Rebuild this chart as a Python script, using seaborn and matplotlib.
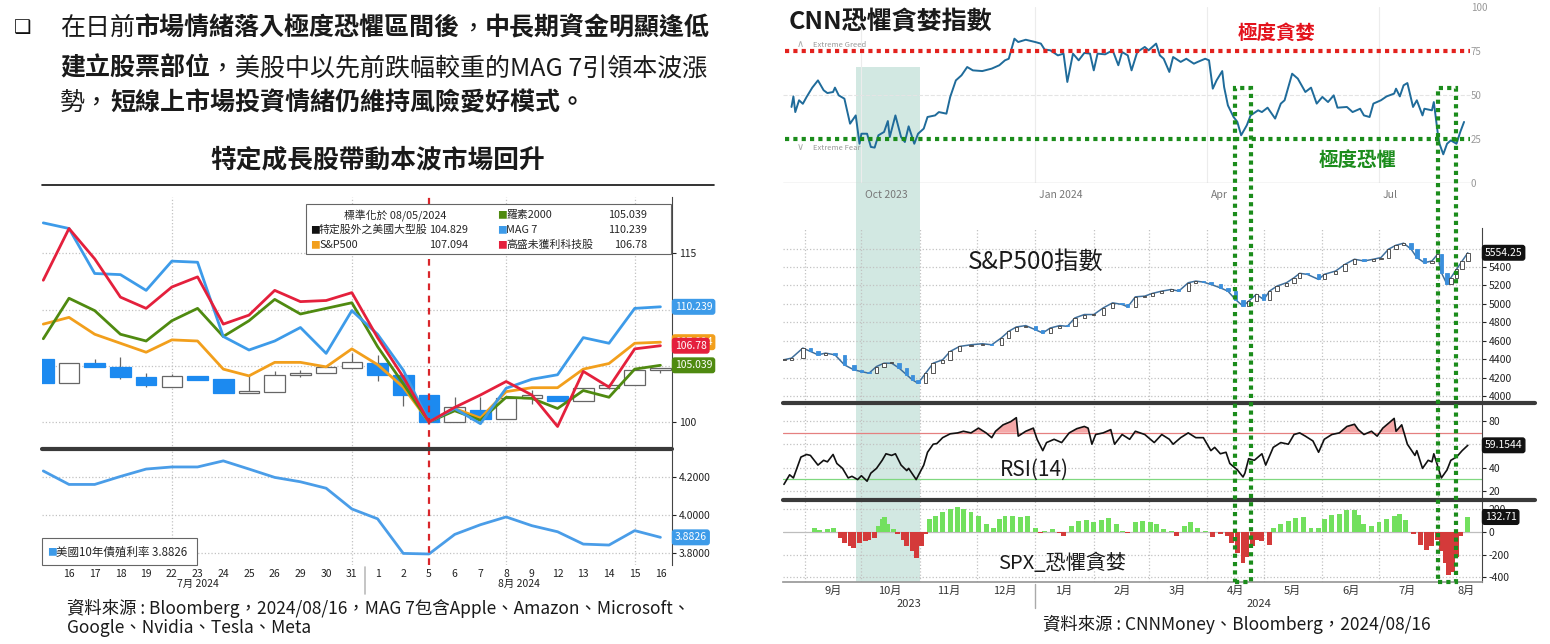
import numpy as np
import pandas as pd
import matplotlib.pyplot as plt
import matplotlib.dates as mdates
import matplotlib.transforms as mtransforms
from matplotlib.patches import Rectangle
from matplotlib.lines import Line2D
import seaborn as sns

# =====================================================================================
# 1. 版面設定
# =====================================================================================
W, H = 1550, 644
CJK = ['Noto Sans CJK TC', 'DejaVu Sans']
BASE = pd.Timestamp('2024-01-01')

# =====================================================================================
# 2. 左圖資料 (2024/07/15 ~ 2024/08/16, 以 08/05 = 100 標準化)
# =====================================================================================
lc_dates = ['2024-07-15', '2024-07-16', '2024-07-17', '2024-07-18', '2024-07-19',
            '2024-07-22', '2024-07-23', '2024-07-24', '2024-07-25', '2024-07-26',
            '2024-07-29', '2024-07-30', '2024-07-31', '2024-08-01', '2024-08-02',
            '2024-08-05', '2024-08-06', '2024-08-07', '2024-08-08', '2024-08-09',
            '2024-08-12', '2024-08-13', '2024-08-14', '2024-08-15', '2024-08-16']
lc_month_labels = {7: '7月 2024', 8: '8月 2024'}
lc_grid_idx = [5, 12, 18, 23]
norm_idx = 15

mag7 = [117.7, 117.2, 113.2, 113.1, 111.7, 114.3, 114.2, 107.6, 106.4, 107.2, 108.4, 106.1, 109.9,
        107.8, 104.6, 100.0, 101.2, 99.85, 103.0, 103.8, 104.2, 107.5, 107.0, 110.1, 110.239]
gs_tech = [112.6, 117.2, 114.5, 111.1, 110.1, 112.0, 112.9, 108.7, 109.5, 111.7, 110.7, 110.8, 111.5,
           107.5, 104.0, 100.0, 101.3, 102.4, 103.6, 102.4, 99.6, 104.5, 103.1, 106.5, 106.78]
russell = [107.4, 111.0, 109.9, 107.8, 107.2, 109.0, 110.1, 107.6, 109.0, 110.9, 109.6, 110.1, 110.6,
           106.7, 103.4, 100.0, 101.0, 100.15, 102.2, 102.1, 101.2, 102.8, 102.2, 104.7, 105.039]
spx_norm = [108.7, 109.3, 107.8, 107.0, 106.2, 107.3, 107.2, 104.7, 104.1, 105.3, 105.3, 104.9, 106.5,
            105.1, 103.1, 100.0, 101.2, 100.35, 102.7, 103.05, 103.05, 104.7, 105.2, 107.0, 107.094]

# 特定股外之美國大型股 (K 線)
other_open = [105.6, 103.46, 105.27, 104.88, 103.99, 103.11, 104.11, 103.79, 102.6, 102.69, 104.2, 104.35,
              104.82, 105.27, 104.2, 102.4, 100.0, 101.04, 100.24, 102.16, 102.34, 101.83, 103.05, 103.25, 104.59]
other_close = [103.46, 105.27, 104.88, 103.99, 103.25, 104.11, 103.76, 102.6, 102.72, 104.2, 104.38, 104.85,
               105.33, 104.2, 102.37, 100.0, 101.33, 100.3, 102.16, 102.4, 101.86, 103.02, 103.25, 104.59, 104.829]
other_high = [105.6, 105.27, 105.62, 105.77, 104.35, 104.29, 104.11, 103.79, 104.14, 104.53, 104.59, 104.85,
              106.15, 105.92, 104.2, 102.4, 102.22, 102.22, 102.16, 102.81, 102.34, 103.02, 103.4, 104.59, 104.83]
other_low = [103.46, 103.46, 104.88, 103.85, 103.11, 103.11, 103.76, 102.6, 102.6, 102.69, 103.99, 104.35,
             104.82, 103.64, 101.39, 100.0, 100.0, 100.15, 100.24, 101.63, 101.86, 101.83, 102.96, 103.25, 104.35]

ust10y = [4.232, 4.161, 4.161, 4.203, 4.242, 4.253, 4.253, 4.285, 4.242, 4.198, 4.175, 4.141, 4.032,
          3.98, 3.798, 3.795, 3.898, 3.949, 3.99, 3.944, 3.912, 3.847, 3.842, 3.918, 3.8826]

# =====================================================================================
# 3. 右圖資料 (日期以 2024/01/01 起算的天數表示)
# =====================================================================================
cnn_day = [-129, -128, -127, -125, -123, -121, -118, -115, -112, -110,
           -107, -106, -104, -101, -98, -95, -93, -92, -89, -87,
           -85, -83, -80, -78, -77, -74, -71, -69, -67, -64,
           -62, -59, -57, -53, -51, -47, -45, -42, -39, -36,
           -33, -28, -23, -19, -16, -14, -11, -9, -5, 0,
           3, 5, 8, 12, 15, 17, 20, 23, 26, 29,
           31, 33, 37, 41, 44, 46, 49, 51, 54, 58,
           60, 64, 66, 68, 71, 73, 77, 80, 84, 86,
           90, 92, 94, 96, 99, 100, 102, 105, 107, 109,
           112, 114, 118, 120, 123, 127, 130, 132, 136, 139,
           143, 146, 149, 152, 155, 158, 160, 165, 168, 172,
           174, 177, 179, 183, 186, 190, 191, 193, 195, 197,
           200, 202, 205, 206, 210, 211, 213, 214, 216, 218,
           220, 223, 225, 227]
cnn_val = [43.2, 49.2, 40.3, 47, 45, 48.9, 54.2, 58.3, 52.7, 51.1,
           51.7, 54.2, 49.8, 47.9, 33.7, 38.4, 22.3, 28, 28, 20.5,
           20.1, 27.1, 29, 35.2, 26.1, 38.4, 26.1, 23.3, 32.2, 22.3,
           28, 30.9, 37.5, 38.4, 40.3, 39.4, 48.9, 58.3, 61.2, 65.9,
           64, 63.6, 65, 66.9, 69.7, 70.6, 82, 80.1, 81.4, 80.1,
           79.2, 75.8, 75.4, 72.5, 73.5, 57.4, 73.5, 69.7, 73.9, 73.5,
           64, 73.5, 73.1, 75.4, 66.9, 74.4, 72.5, 64, 74.4, 77.3,
           75.4, 79.2, 72.5, 70.6, 63.1, 71.6, 68.8, 70.6, 67.8, 68.8,
           70.6, 69.7, 53.6, 58.3, 63.6, 54.5, 44.1, 37.5, 34.7, 27.1,
           32.8, 38.4, 41.3, 40.3, 42.8, 36.6, 45.1, 47, 62.1, 59.3,
           51.7, 54.2, 45.1, 48.9, 46, 49.8, 42.8, 43.2, 40.3, 42.2,
           38.4, 37.5, 45.1, 47, 49.2, 50.8, 53.6, 49.2, 55.5, 56.8,
           43.2, 47, 38.4, 42.2, 41.3, 46, 29, 22.3, 16.3, 22.3,
           24.2, 22.3, 29, 34.7]

spx_day = [-133, -129, -123, -119, -115, -111, -106, -101, -96, -92,
           -88, -84, -80, -76, -72, -68, -65, -62, -58, -54,
           -49, -45, -40, -34, -28, -23, -18, -14, -10, -5,
           0, 4, 8, 13, 17, 21, 26, 31, 36, 41,
           46, 49, 53, 58, 62, 67, 72, 76, 81, 85,
           89, 93, 98, 102, 106, 110, 113, 117, 121, 124,
           128, 133, 137, 140, 144, 150, 153, 159, 164, 169,
           174, 179, 183, 187, 191, 195, 199, 202, 206, 210,
           213, 215, 218, 220, 223, 226, 229]
spx_close = [4393, 4411, 4520, 4484, 4447, 4465, 4447, 4338, 4284, 4265,
             4247, 4320, 4356, 4356, 4302, 4229, 4175, 4138, 4247, 4356,
             4393, 4484, 4538, 4556, 4567, 4556, 4629, 4702, 4749, 4764,
             4720, 4684, 4738, 4764, 4756, 4847, 4884, 4884, 4956, 5011,
             4993, 4967, 5076, 5084, 5113, 5138, 5156, 5138, 5229, 5247,
             5236, 5211, 5174, 5138, 5047, 4975, 5029, 5102, 5047, 5138,
             5193, 5229, 5283, 5331, 5320, 5265, 5320, 5356, 5429, 5484,
             5465, 5484, 5502, 5593, 5636, 5658, 5593, 5502, 5447, 5465,
             5538, 5338, 5211, 5283, 5374, 5465, 5554.25]

rsi_day = [-133, -130, -128, -124, -121, -119, -115, -112, -110, -107,
           -105, -102, -99, -97, -94, -92, -89, -87, -84, -81,
           -79, -76, -74, -71, -68, -67, -63, -59, -57, -54,
           -52, -49, -45, -41, -38, -34, -30, -26, -23, -21,
           -17, -13, -10, -9, -5, -1, 1, 4, 6, 10,
           14, 18, 22, 26, 28, 30, 32, 36, 40, 42,
           46, 50, 53, 58, 63, 67, 71, 73, 77, 81,
           85, 89, 93, 95, 98, 101, 103, 107, 110, 111,
           113, 116, 120, 122, 126, 130, 134, 137, 140, 143,
           147, 150, 153, 157, 161, 165, 169, 171, 174, 178,
           181, 184, 187, 190, 191, 194, 197, 201, 202, 205,
           208, 210, 211, 215, 218, 220, 223, 226, 229]
rsi_val = [25.7, 33.9, 31.2, 49.1, 51.3, 50.5, 42.2, 46.3, 45, 51.3,
           43.6, 39.4, 31.2, 32.6, 29.8, 33.1, 28.4, 35.3, 39.4, 46.3,
           51.9, 50.5, 51.9, 42.2, 37.5, 39.4, 29.8, 42.2, 53.2, 60.1,
           60.7, 65.7, 69, 69.8, 71.2, 69.8, 73.9, 69.8, 65.7, 71.2,
           76.7, 79.4, 82.8, 67, 71.2, 73.9, 64.3, 54.6, 61.5, 64.3,
           61.5, 69.8, 73.4, 75.3, 73.9, 60.1, 68.4, 69.8, 72.6, 60.1,
           68.4, 64.3, 71.2, 68.4, 61.5, 68.4, 64.3, 60.1, 65.7, 69.8,
           65.7, 65.7, 54.6, 57.4, 51.9, 53.2, 43.6, 38.1, 32, 35.3,
           47.7, 46.3, 51.9, 42.2, 57.4, 61.5, 60.1, 68.4, 69.8, 67,
           62.9, 53.2, 64.3, 68.4, 69.8, 75.3, 77.2, 72.6, 68.4, 71.2,
           67, 73.9, 78, 82.2, 71.2, 76.7, 60.1, 50.5, 54.6, 39.4,
           46.3, 45, 51.9, 31.2, 38.1, 46.3, 49.1, 54.6, 59.1544]

hist_day = [-117, -114, -110, -107, -103, -101, -98, -96, -93, -90,
            -88, -85, -83, -81, -80, -78, -75, -73, -70, -68,
            -65, -63, -60, -58, -56, -53, -49, -45, -41, -38,
            -34, -30, -26, -22, -19, -16, -12, -8, -4, 0,
            3, 5, 9, 13, 15, 19, 23, 27, 31, 35,
            39, 43, 46, 49, 53, 57, 61, 64, 68, 72,
            75, 79, 82, 86, 90, 94, 98, 102, 104, 107,
            110, 112, 115, 117, 120, 124, 126, 130, 134, 138,
            142, 146, 150, 153, 157, 161, 165, 169, 171, 174,
            178, 182, 186, 190, 193, 196, 200, 204, 207, 210,
            213, 215, 217, 219, 221, 223, 225, 229]
hist_val = [39, 15, 24, 33, -51, -97, -127, -142, -97, -82,
            -67, -51, 55, 115, 130, 70, 24, -21, -67, -127,
            -173, -233, -127, -21, 115, 145, 176, 206, 221, 206,
            176, 139, 70, 39, 115, 145, 145, 130, 139, 39,
            -12, 9, 24, -6, -36, 55, 100, 109, 85, 109,
            121, 70, 9, -12, 85, 100, 91, 70, 24, 9,
            -36, 55, 85, 39, 9, -42, -21, -36, -97, -188,
            -279, -218, -127, -67, -82, -112, 39, 70, 100, 121,
            130, 39, 39, 115, 152, 161, 191, 191, 152, 70,
            55, 85, 115, 139, 161, 109, -21, -112, -158, -127,
            -67, -173, -279, -385, -355, -218, -36, 132.71]

# 標註區間 (天數)
fear_band = (-95, -61)
fear_boxes = [(106, 114), (213, 223)]
right_xlim_days = (-133.5, 236.5)


# =====================================================================================
# 4. 工具函式
# =====================================================================================
def px_rect(left, top, right, bottom):
    return [left / W, 1 - bottom / H, (right - left) / W, (bottom - top) / H]


def fxy(x, y):
    return x / W, 1 - y / H


def to_num(days):
    return mdates.date2num((BASE + pd.to_timedelta(list(days), unit='D')).values)


def value_tag(ax, y, text, fc, tc='white', size=7.5):
    ax.annotate(text, xy=(1, y), xycoords=ax.get_yaxis_transform(), xytext=(2, 0),
                textcoords='offset points', ha='left', va='center', fontsize=size, color=tc,
                bbox=dict(boxstyle='round,pad=0.22', fc=fc, ec=fc), annotation_clip=False, zorder=10)


def rich_line(fig, x, y, parts, size):
    renderer = fig.canvas.get_renderer()
    for txt, bold in parts:
        t = fig.text(*fxy(x, y), txt, fontsize=size, fontweight='bold' if bold else 'normal',
                     va='center', ha='left', color='#1a1a1a')
        x += t.get_window_extent(renderer).width


def dotted_grid(ax, xs=(), ys=()):
    for v in ys:
        ax.axhline(v, color='#c2c2c2', ls=':', lw=0.9, zorder=0)
    for v in xs:
        ax.axvline(v, color='#c2c2c2', ls=':', lw=0.9, zorder=0)


def style_right_axis(ax, yticks, labels, size=7.5):
    for s in ['top', 'left', 'bottom']:
        ax.spines[s].set_visible(False)
    ax.spines['right'].set_color('#444444')
    ax.spines['right'].set_linewidth(0.8)
    ax.yaxis.tick_right()
    ax.set_yticks(yticks)
    ax.set_yticklabels(labels)
    ax.tick_params(axis='y', direction='out', length=3, width=0.8, labelsize=size, pad=2, colors='#222222')
    ax.set_xticks([])
    ax.set_xlabel('')
    ax.set_ylabel('')


# =====================================================================================
# 5. 左圖: 特定成長股帶動本波市場回升
# =====================================================================================
def draw_left_chart(fig):
    ax_t = fig.add_axes(px_rect(42, 197, 672, 449))
    ax_b = fig.add_axes(px_rect(42, 451, 672, 565))
    x = np.arange(len(lc_dates))

    # K 線
    o, c = np.array(other_open), np.array(other_close)
    down = c < o
    ax_t.vlines(x, other_low, other_high, color='#666666', lw=0.9, zorder=2)
    ax_t.bar(x, np.maximum(np.abs(c - o), 0.08), bottom=np.minimum(o, c), width=0.8,
             color=['#1c8af0' if d else 'white' for d in down],
             edgecolor=['#1c8af0' if d else '#666666' for d in down], linewidth=0.9, zorder=2.5)

    series = [(spx_norm, '#f29f1c'), (russell, '#4f8a10'), (mag7, '#3d9be9'), (gs_tech, '#e4203c')]
    for vals, col in series:
        sns.lineplot(x=x, y=vals, ax=ax_t, color=col, linewidth=2.0, errorbar=None, zorder=3)
    sns.lineplot(x=x, y=ust10y, ax=ax_b, color='#4a9de8', linewidth=2.0, errorbar=None, zorder=3)

    ax_t.set_xlim(-0.05, 24.45)
    ax_b.set_xlim(-0.05, 24.45)
    ax_t.set_ylim(97.6, 120)
    ax_b.set_ylim(3.737, 4.337)

    # 105 / 110 被右側數值標籤蓋住
    style_right_axis(ax_t, [100, 105, 110, 115], ['100', '', '', '115'])
    style_right_axis(ax_b, [3.8, 4.0, 4.2], ['3.8000', '4.0000', '4.2000'])
    dotted_grid(ax_t, lc_grid_idx, [100, 105, 110, 115])
    dotted_grid(ax_b, lc_grid_idx, [3.8, 4.0, 4.2])
    for ax in (ax_t, ax_b):
        ax.axvline(norm_idx, color='#d9262b', ls=(0, (3, 2.5)), lw=1.6, zorder=4)

    # x 軸日期
    dts = pd.to_datetime(lc_dates)
    ax_b.set_xticks(x[1:])
    ax_b.set_xticklabels([str(d.day) for d in dts[1:]])
    ax_b.tick_params(axis='x', length=0, labelsize=7.5, pad=3, colors='#222222')
    blend = mtransforms.blended_transform_factory(ax_b.transData, ax_b.transAxes)
    for m, lab in lc_month_labels.items():
        idx = x[dts.month == m]
        ax_b.text(idx.mean(), -0.165, lab, transform=blend, ha='center', va='center',
                  fontsize=7.5, color='#222222')
    split = x[dts.month == 7].max() + 0.5
    ax_b.add_line(Line2D([split, split], [-0.02, -0.25], transform=blend, color='#bbbbbb',
                         lw=1.2, clip_on=False))

    # 右側數值標籤
    value_tag(ax_t, mag7[-1], f'{mag7[-1]:g}', '#3d9be9')
    value_tag(ax_t, spx_norm[-1], f'{spx_norm[-1]:g}', '#f29f1c')
    value_tag(ax_t, gs_tech[-1], f'{gs_tech[-1]:g}', '#e4203c')
    value_tag(ax_t, russell[-1], f'{russell[-1]:g}', '#4f8a10')
    value_tag(ax_b, ust10y[-1], f'{ust10y[-1]:g}', '#3d9be9')

    # 圖例
    fig.add_artist(Rectangle(fxy(306, 254), 365 / W, 50 / H, transform=fig.transFigure,
                             fc='white', ec='#666666', lw=0.8, zorder=4))
    fs = 7.8
    fig.text(*fxy(395, 215), '標準化於 08/05/2024', ha='center', va='center', fontsize=fs, zorder=5)
    rows = [
        (310, 230, '#111111', '特定股外之美國大型股', other_close[-1], 468),
        (310, 245, '#f29f1c', 'S&P500', spx_norm[-1], 468),
        (497, 215, '#4f8a10', '羅素2000', russell[-1], 647),
        (497, 230, '#3d9be9', 'MAG 7', mag7[-1], 647),
        (497, 245, '#e4203c', '高盛未獲利科技股', gs_tech[-1], 647),
    ]
    for xp, yp, col, name, val, xr in rows:
        fig.text(*fxy(xp, yp), '■', color=col, ha='left', va='center', fontsize=7, zorder=5)
        fig.text(*fxy(xp + 9, yp), name, ha='left', va='center', fontsize=fs, zorder=5)
        fig.text(*fxy(xr, yp), f'{val:g}', ha='right', va='center', fontsize=fs, zorder=5)

    fig.add_artist(Rectangle(fxy(42, 565), 155 / W, 27 / H, transform=fig.transFigure,
                             fc='white', ec='#666666', lw=0.8, zorder=4))
    fig.text(*fxy(47, 552), '■', color='#3d9be9', ha='left', va='center', fontsize=7, zorder=5)
    fig.text(*fxy(56, 552), f'美國10年債殖利率 {ust10y[-1]:g}', ha='left', va='center', fontsize=8.3, zorder=5)

    fig.add_artist(Line2D([42 / W, 672 / W], [1 - 449 / H] * 2, transform=fig.transFigure,
                          color='#3a3a3a', lw=3, zorder=5))


# =====================================================================================
# 6. 右圖: CNN 恐懼貪婪指數 / S&P500 / RSI / SPX_恐懼貪婪
# =====================================================================================
def draw_right_chart(fig):
    xlim = to_num(right_xlim_days)
    ax_c = fig.add_axes(px_rect(783, 7, 1482, 183))
    ax_s = fig.add_axes(px_rect(783, 228, 1482, 403))
    ax_r = fig.add_axes(px_rect(783, 403, 1482, 500))
    ax_h = fig.add_axes(px_rect(783, 500, 1482, 582))
    for ax in (ax_c, ax_s, ax_r, ax_h):
        ax.set_facecolor('none')
        ax.set_xlim(*xlim)

    month_starts = pd.date_range('2023-09-01', '2024-08-01', freq='MS')
    ms_num = mdates.date2num(month_starts.values)

    # ---- CNN 恐懼貪婪指數
    sns.lineplot(x=to_num(cnn_day), y=cnn_val, ax=ax_c, color='#1f6b9a', linewidth=1.4, errorbar=None, zorder=3)
    ax_c.set_ylim(0, 100)
    for s in ax_c.spines.values():
        s.set_visible(False)
    ax_c.set_xticks([])
    ax_c.set_xlabel('')
    ax_c.set_ylabel('')
    ax_c.yaxis.tick_right()
    ax_c.set_yticks([0, 25, 50, 75, 100])
    ax_c.tick_params(axis='y', length=0, labelsize=7, colors='#999999', pad=-8)
    ax_c.axhline(0, color='#cfcfcf', lw=1.0, xmax=0.983, zorder=1)
    ax_c.axhline(50, color='#e4e4e4', lw=0.8, ls='--', xmax=0.983, zorder=1)
    quarters = pd.to_datetime(['2023-10-01', '2024-01-01', '2024-04-01', '2024-07-01'])
    q_labels = ['Oct 2023', 'Jan 2024', 'Apr', 'Jul']
    blend_c = mtransforms.blended_transform_factory(ax_c.transData, ax_c.transAxes)
    for q, lab in zip(mdates.date2num(quarters.values), q_labels):
        ax_c.axvline(q, color='#ececec', lw=0.8, zorder=0)
        ax_c.text(q + 2, -0.04, lab, transform=blend_c, ha='left', va='top', fontsize=7.5, color='#777777')
    ax_c.axhline(75, color='#e3221e', ls=(0, (1, 1)), lw=3, xmin=0.003, xmax=0.983, zorder=4)
    ax_c.axhline(25, color='#1b8c1b', ls=(0, (1, 1)), lw=3, xmin=0.003, xmax=0.983, zorder=4)
    fig.text(*fxy(797, 44), '∧', color='#aaaaaa', fontsize=7, ha='left', va='center', family=['DejaVu Sans'])
    fig.text(*fxy(813, 45), 'Extreme Greed', color='#999999', fontsize=5.5, ha='left', va='center')
    fig.text(*fxy(797, 147), '∨', color='#aaaaaa', fontsize=7, ha='left', va='center', family=['DejaVu Sans'])
    fig.text(*fxy(813, 148), 'Extreme Fear', color='#999999', fontsize=5.5, ha='left', va='center')

    # ---- S&P500 K 線 (開盤取前一筆收盤)
    sx = to_num(spx_day)
    c = np.array(spx_close, dtype=float)
    o = np.r_[c[0], c[:-1]]
    down = c < o
    sns.lineplot(x=sx, y=c, ax=ax_s, color='#3f6f9c', linewidth=1.1, errorbar=None, zorder=2)
    ax_s.bar(sx, np.maximum(np.abs(c - o), 10), bottom=np.minimum(o, c), width=1.8,
             color=['#3b8fdc' if d else 'white' for d in down],
             edgecolor=['#3b8fdc' if d else '#3a3a3a' for d in down], linewidth=0.6, zorder=3)
    spx_ticks = list(range(4000, 5601, 200))
    ax_s.set_ylim(3924, 5823)
    style_right_axis(ax_s, spx_ticks, [str(v) if v < 5600 else '' for v in spx_ticks])
    dotted_grid(ax_s, ms_num, spx_ticks)
    value_tag(ax_s, spx_close[-1], f'{spx_close[-1]:.2f}', '#111111')

    # ---- RSI(14)
    rx = to_num(rsi_day)
    rv = np.array(rsi_val)
    ax_r.fill_between(rx, rv, 70, where=rv > 70, interpolate=True, color='#f5a8a8', lw=0, zorder=2)
    sns.lineplot(x=rx, y=rv, ax=ax_r, color='#111111', linewidth=1.2, errorbar=None, zorder=3)
    ax_r.axhline(70, color='#e58080', lw=0.9, zorder=2)
    ax_r.axhline(30, color='#80d880', lw=0.9, zorder=2)
    ax_r.set_ylim(12.3, 95.4)
    style_right_axis(ax_r, [20, 40, 60, 80], ['20', '40', '', '80'])
    dotted_grid(ax_r, ms_num, [20, 40, 60, 80])
    value_tag(ax_r, rsi_val[-1], f'{rsi_val[-1]:g}', '#111111')

    # ---- SPX_恐懼貪婪
    hx = to_num(hist_day)
    hv = np.array(hist_val)
    ax_h.bar(hx, hv, width=2.6, color=['#72e05e' if v >= 0 else '#d43a3a' for v in hv], lw=0, zorder=3)
    ax_h.axhline(0, color='#bdbdbd', lw=0.9, zorder=2)
    ax_h.set_ylim(-444, 284)
    style_right_axis(ax_h, [-400, -200, 0, 200], ['-400', '-200', '0', '200'])
    dotted_grid(ax_h, ms_num, [-400, -200, 200])
    value_tag(ax_h, hist_val[-1], f'{hist_val[-1]:g}', '#111111')

    # x 軸: 月份 + 年份
    ax_h.spines['bottom'].set_visible(True)
    ax_h.spines['bottom'].set_color('#999999')
    ax_h.set_xticks(ms_num)
    ax_h.set_xticklabels([])
    ax_h.set_xticks(ms_num + 15, minor=True)
    ax_h.set_xticklabels([f'{d.month}月' for d in month_starts], minor=True)
    ax_h.tick_params(axis='x', which='major', length=3, color='#888888')
    ax_h.tick_params(axis='x', which='minor', length=0, labelsize=8, pad=3, colors='#333333')
    jan1 = mdates.date2num(np.datetime64('2024-01-01'))
    blend_h = mtransforms.blended_transform_factory(ax_h.transData, ax_h.transAxes)
    ax_h.text((xlim[0] + jan1) / 2, -0.27, '2023', transform=blend_h, ha='center', va='center',
              fontsize=8, color='#333333')
    ax_h.text((jan1 + xlim[1]) / 2, -0.27, '2024', transform=blend_h, ha='center', va='center',
              fontsize=8, color='#333333')
    ax_h.add_line(Line2D([jan1, jan1], [-0.02, -0.32], transform=blend_h, color='#aaaaaa',
                         lw=1.0, clip_on=False))

    # 陰影區間與虛線框
    blend = mtransforms.blended_transform_factory(ax_s.transData, fig.transFigure)
    b0, b1 = to_num(fear_band)
    fig.add_artist(Rectangle((b0, 1 - 582 / H), b1 - b0, (582 - 67) / H, transform=blend,
                             fc='#d2e8e2', ec='none', zorder=-1))
    for d0, d1 in fear_boxes:
        x0, x1 = to_num((d0, d1))
        fig.add_artist(Rectangle((x0, 1 - 582 / H), x1 - x0, (582 - 88) / H, transform=blend,
                                 fill=False, ec='#1b8c1b', ls=(0, (1, 1)), lw=3, zorder=6))

    for yp in (403, 500):
        fig.add_artist(Line2D([783 / W, 1535 / W], [1 - yp / H] * 2, transform=fig.transFigure,
                              color='#3a3a3a', lw=3, zorder=5))


# =====================================================================================
# 7. 文字
# =====================================================================================
def draw_texts(fig):
    fig.text(*fxy(14, 28), '❑', fontsize=14, ha='left', va='center', family=['DejaVu Sans'], color='#111111')
    rich_line(fig, 60, 28, [('在日前', False), ('市場情緒落入極度恐懼區間後', True), ('，', False),
                            ('中長期資金明顯逢低', True)], 18)
    rich_line(fig, 60, 68, [('建立股票部位', True), ('，美股中以先前跌幅較重的MAG 7引領本波漲', False)], 18)
    rich_line(fig, 60, 103, [('勢，', False), ('短線上市場投資情緒仍維持風險愛好模式。', True)], 18)

    fig.text(*fxy(378, 160), '特定成長股帶動本波市場回升', fontsize=18.5, fontweight='bold',
             ha='center', va='center', color='#1a1a1a')
    fig.add_artist(Line2D([42 / W, 714 / W], [1 - 185 / H] * 2, transform=fig.transFigure,
                          color='#111111', lw=1.2))
    fig.text(*fxy(67, 608), '資料來源 : Bloomberg，2024/08/16，MAG 7包含Apple、Amazon、Microsoft、',
             fontsize=12.5, ha='left', va='center', color='#1a1a1a')
    fig.text(*fxy(67, 628), 'Google、Nvidia、Tesla、Meta', fontsize=12.5, ha='left', va='center', color='#1a1a1a')

    fig.text(*fxy(789, 22), 'CNN恐懼貪婪指數', fontsize=18, fontweight='bold', ha='left', va='center',
             color='#1a1a1a')
    fig.text(*fxy(1277, 33), '極度貪婪', fontsize=14, fontweight='bold', ha='center', va='center', color='#e3121c')
    fig.text(*fxy(1358, 160), '極度恐懼', fontsize=14, fontweight='bold', ha='center', va='center', color='#1b8c1b')
    fig.text(*fxy(968, 262), 'S&P500指數', fontsize=17.5, ha='left', va='center', color='#1a1a1a')
    fig.text(*fxy(1000, 470), 'RSI(14)', fontsize=15, ha='left', va='center', color='#1a1a1a')
    fig.text(*fxy(998, 563), 'SPX_恐懼貪婪', fontsize=14.5, ha='left', va='center', color='#1a1a1a')
    fig.text(*fxy(1043, 624), '資料來源 : CNNMoney、Bloomberg，2024/08/16', fontsize=12.5,
             ha='left', va='center', color='#1a1a1a')


# =====================================================================================
# 8. 主函數
# =====================================================================================
def main():
    sns.set_theme(style='white')
    plt.rcParams['font.family'] = CJK
    plt.rcParams['axes.unicode_minus'] = False

    fig = plt.figure(figsize=(W / 100, H / 100), dpi=100, facecolor='white')
    draw_left_chart(fig)
    draw_right_chart(fig)
    draw_texts(fig)
    fig.savefig('out.png', dpi=100, facecolor='white')
    plt.close(fig)


if __name__ == '__main__':
    main()
